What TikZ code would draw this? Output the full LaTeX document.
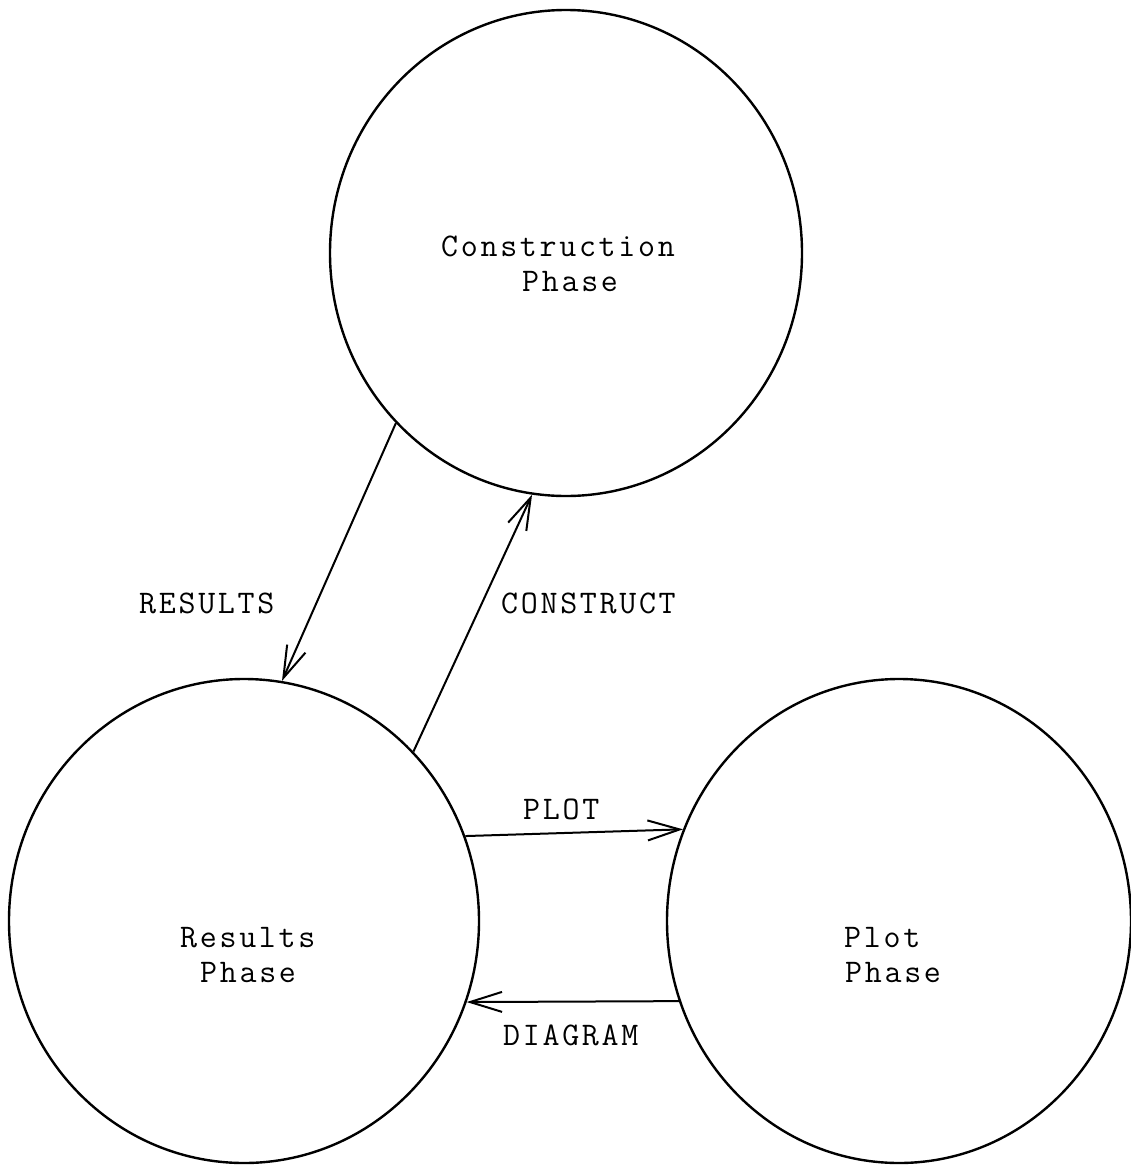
\documentclass[tikz,border=0pt]{standalone}
\usetikzlibrary{shapes.geometric,arrows.meta}

% typewriter lettering: each character followed by a small extra gap
\ExplSyntaxOn
\NewDocumentCommand\typed{m}{\tl_map_inline:nn {#1} {##1\kern 2.7pt}\unkern}
\ExplSyntaxOff

\tikzset{
  phase/.style={draw, ellipse, line width=2.4pt, inner sep=0pt,
                minimum width=470pt, minimum height=484pt},
  word/.style={inner sep=0pt, anchor=base west,
               font=\ttfamily\fontsize{33}{36}\selectfont},
  conn/.style={line width=2pt,
               -{Straight Barb[length=32pt,width=20pt,line width=2pt]}},
}

\begin{document}
\begin{tikzpicture}[x=1pt,y=-1pt]
  \path[fill=white,use as bounding box] (0,0) rectangle (1131,1165);

  % the three phases
  \node[phase, minimum width=472pt, minimum height=486pt] (cons) at (566,253) {};
  \node[phase] (res)  at (244,921) {};
  \node[phase, minimum width=464pt] (plot) at (899,921) {};

  % phase names
  \node[word] (consA) at (441,256) {\typed{Construction}};
  \node[word] (consB) at (522,291) {\typed{Phase}};
  \node[word] (resA)  at (180,947) {\typed{Results}};
  \node[word] (resB)  at (200,982) {\typed{Phase}};
  \node[word] (plotA) at (844,947) {\typed{Plot}};
  \node[word] (plotB) at (845,982) {\typed{Phase}};

  % transitions between phases
  \draw[conn] (cons.225.3) -- (res.81.9);
  \draw[conn] (res.45.3)   -- (cons.262.2);
  \draw[conn] (res.21.0)   -- (plot.157.9);
  \draw[conn] (plot.200.1) -- (res.340.2);

  % transition labels
  \node[word] (lres)   at (139,613)  {\typed{RESULTS}};
  \node[word] (lcons)  at (501,613)  {\typed{CONSTRUCT}};
  \node[word] (lplot)  at (523,819)  {\typed{PLOT}};
  \node[word] (ldiag)  at (503,1045) {\typed{DIAGRAM}};
\end{tikzpicture}
\end{document}
